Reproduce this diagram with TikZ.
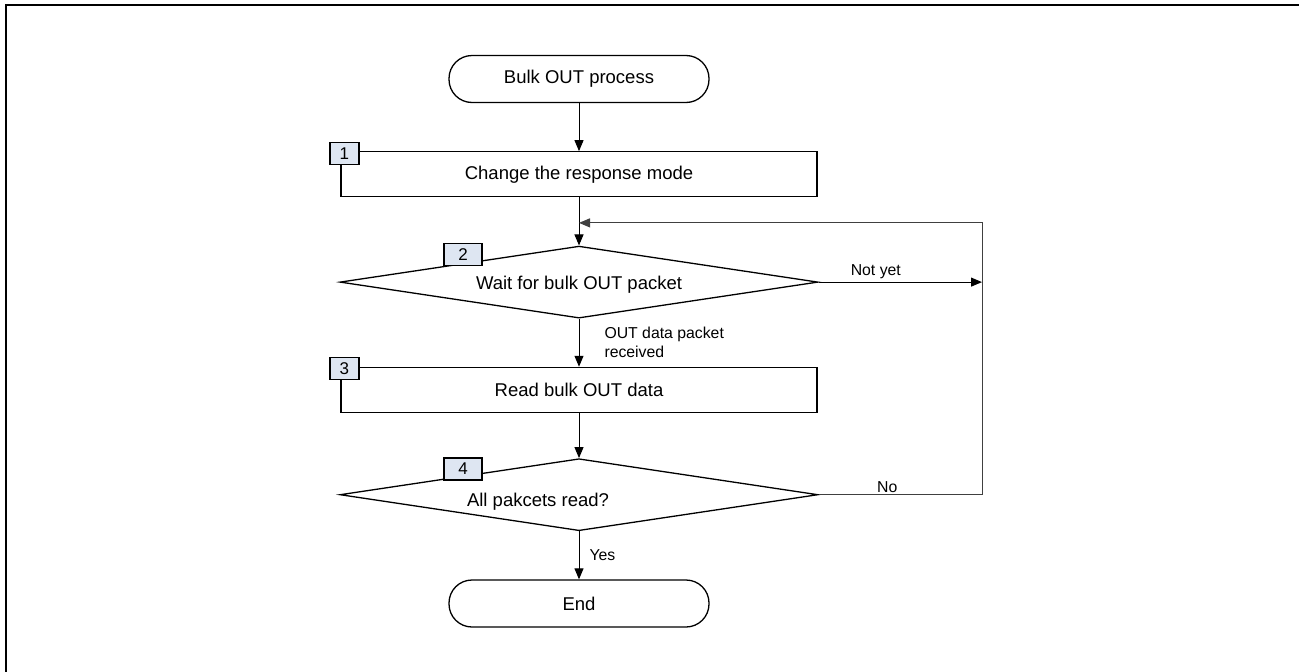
\documentclass[tikz,border=0pt]{standalone}
\usepackage{fontspec}
\setmainfont{Liberation Sans}
\usepackage{xcolor}
\usetikzlibrary{shapes.geometric,arrows.meta,positioning,calc}
\definecolor{tagblue}{RGB}{222,230,242}

\begin{document}
\begin{tikzpicture}[
        x=1pt, y=-1pt,
        node distance=48pt,
        term/.style={rectangle, draw=black, line width=1.3pt, rounded corners=23pt, minimum width=260pt, minimum height=47pt, font=\fontsize{18.5pt}{22pt}\selectfont},
        procbox/.style={rectangle, draw=black, line width=1.3pt, minimum width=476pt, minimum height=45pt, font=\fontsize{18.5pt}{22pt}\selectfont},
        decision/.style={diamond, draw=black, line width=1.3pt, aspect=6.6, minimum width=478pt, minimum height=72pt, inner sep=0pt},
        dectext/.style={font=\fontsize{18.5pt}{22pt}\selectfont, inner sep=0pt},
        tag/.style={rectangle, draw=black, line width=1.3pt, fill=tagblue, minimum width=29pt, minimum height=22pt, inner sep=0pt, font=\fontsize{17pt}{19pt}\selectfont},
        lbl/.style={font=\fontsize{15.8pt}{19pt}\selectfont, align=left, inner sep=0pt},
        arrow/.style={-{Triangle[length=11pt,width=9pt]}, line width=1pt, draw=black}
    ]
        \useasboundingbox (0,0) rectangle (1299,672);
        \draw[line width=2pt] (6,672) -- (6,5) -- (1299,5);

        % Nodes
        \node[term] (start) at (579,79) {Bulk OUT process};
        \node[procbox, below=of start] (box1) {Change the response mode};
        \node[decision, below=of box1] (dec2) {};
        \node[procbox, below=of dec2] (box3) {Read bulk OUT data};
        \node[decision, below=45pt of box3] (dec4) {};
        \node[term, below=of dec4] (stop) {End};

        \node[dectext] (dec2text) at ([yshift=-3pt]dec2.center) {Wait for bulk OUT packet};
        \node[dectext] (dec4text) at ([xshift=-41pt,yshift=-7pt]dec4.center) {All pakcets read?};

        % Step tags
        \node[tag] (tag1) at ([xshift=4pt,yshift=-2pt]box1.north west) {1};
        \node[tag, minimum width=38pt] (tag2) at ([xshift=-116pt,yshift=-9pt]dec2.north) {2};
        \node[tag] (tag3) at ([xshift=4pt,yshift=-2pt]box3.north west) {3};
        \node[tag, minimum width=38pt] (tag4) at ([xshift=-116pt,yshift=-11pt]dec4.north) {4};

        \coordinate (merge) at ($(box1.south)!0.53!(dec2.north)$);
        \coordinate (rail) at (982,0);

        % Paths
        \draw[arrow] (start) -- (box1);
        \draw[arrow] (box1) -- (dec2);
        \draw[arrow] (dec2) -- (box3) node[lbl, midway, right=25pt] {OUT data packet\\received};
        \draw[arrow] (box3) -- (dec4);
        \draw[arrow] (dec4) -- (stop) node[lbl, midway, right=10pt] {Yes};
        \draw[arrow] (dec2.east) -- (dec2.east -| rail) node[lbl, pos=0.35, above=3pt] {Not yet};
        \draw[arrow, draw=black!75] (dec4.east) -| (rail |- merge) node[lbl, pos=0.21, above=2pt] {No} -- (merge);
    \end{tikzpicture}
\end{document}
